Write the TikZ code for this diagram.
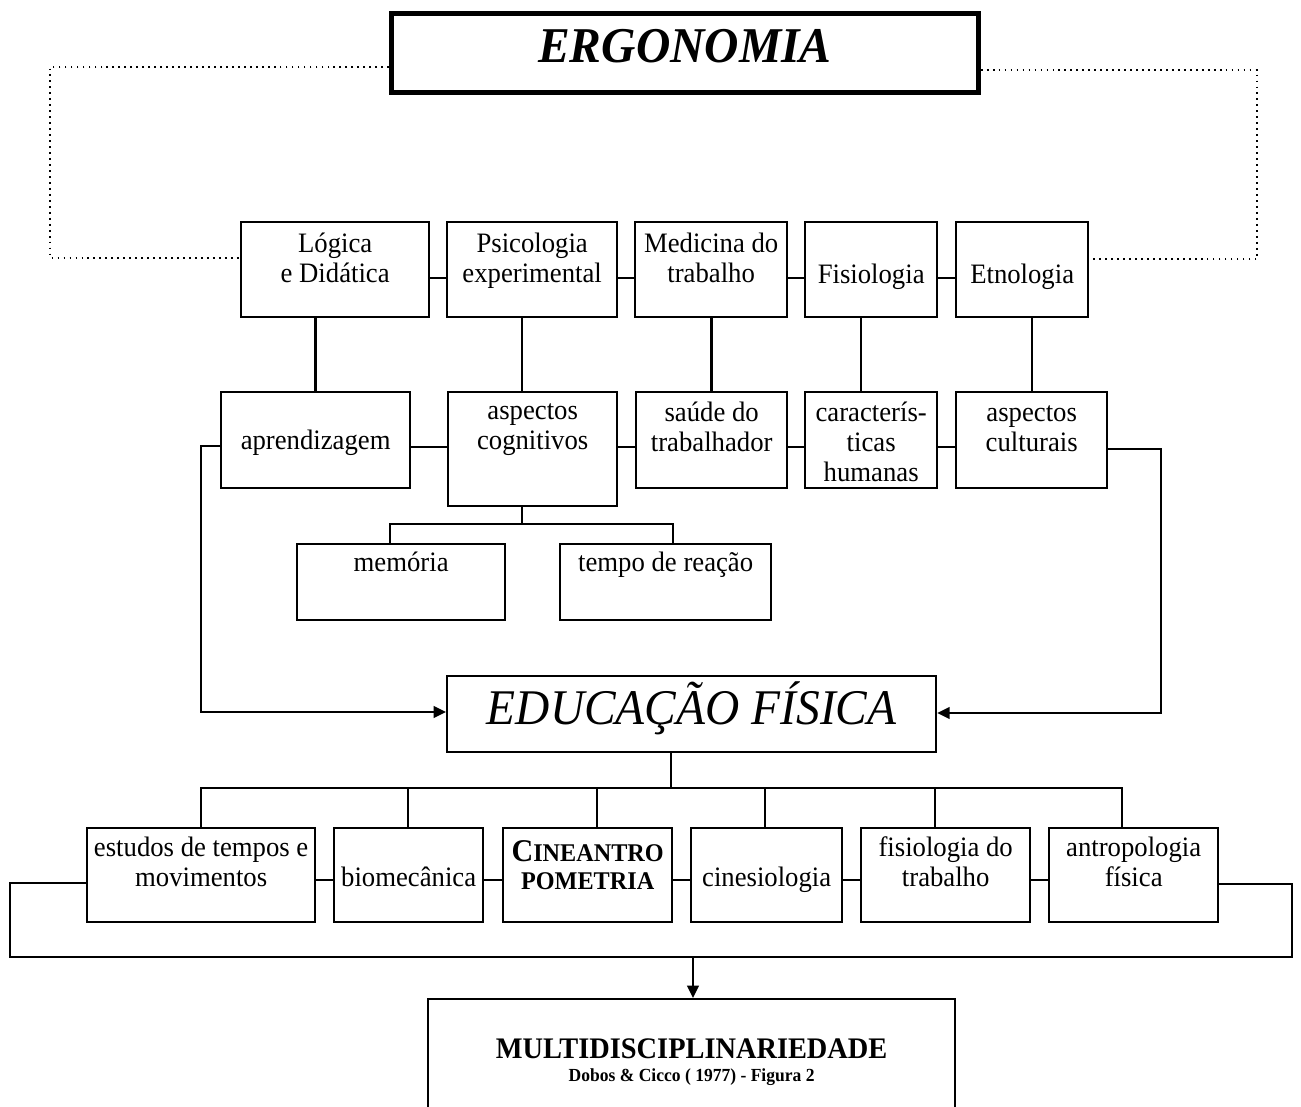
\documentclass[tikz,border=0pt]{standalone}
\usepackage{fontspec}
\setmainfont{Liberation Serif}[FakeStretch=0.95]
\usetikzlibrary{arrows.meta}
\newcommand{\txtfont}{\fontsize{16}{17.1}\selectfont}
\newcommand{\titlefont}{\fontsize{28.5}{30}\selectfont\bfseries\itshape}
\newcommand{\edufont}{\fontsize{28.4}{30}\selectfont\itshape}
\newcommand{\cinfont}{\fontsize{14.5}{15.9}\selectfont\bfseries}
\newcommand{\multifont}{\fontsize{10.5}{13}\selectfont\bfseries}
\tikzset{
  box/.style={draw,line width=1.35pt,align=center,inner sep=0pt,anchor=north west,font=\txtfont},
  hd/.style 2 args={text height=#1cm,text depth=#2cm},
  % connectors
  link/.style={line width=1.35pt},
  dotlink/.style={line width=1pt,dash pattern=on 1pt off 2.4pt},
  feed/.style={link,-{Triangle[length=7pt,width=6.5pt]}},
}
\begin{document}
\begin{tikzpicture}[x=0.02cm,y=-0.02cm]
\fill[white] (0,0) rectangle (1301,1106);
\clip (0,0) rectangle (1301,1106);

%% ---- title ----
\node[box,line width=2.8pt,minimum width=11.74cm,hd={0.98}{0.60},font=\titlefont] (ergo) at (389,11) {ERGONOMIA};

%% ---- row 1: disciplines ----
\node[box,minimum width=3.76cm,hd={1.20}{0.70}] (lg)  at (240,221) {Lógica\\e Didática};
\node[box,minimum width=3.40cm,hd={1.20}{0.70}] (psi) at (446,221) {Psicologia\\experimental};
\node[box,minimum width=3.04cm,hd={1.20}{0.70}] (med) at (634,221) {Medicina do\\trabalho};
\node[box,minimum width=2.64cm,hd={1.22}{0.68}] (fis) at (804,221) {Fisiologia};
\node[box,minimum width=2.64cm,hd={1.22}{0.68}] (etn) at (955,221) {Etnologia};

%% ---- row 2: aspects ----
\node[box,minimum width=3.78cm,hd={1.14}{0.78}] (apr) at (220,391) {aprendizagem};
\node[box,minimum width=3.38cm,hd={1.14}{1.14}] (asp) at (447,391) {aspectos\\cognitivos};
\node[box,minimum width=3.02cm,hd={1.18}{0.74}] (sau) at (635,391) {saúde do\\trabalhador};
\node[box,minimum width=2.64cm,hd={1.78}{0.14}] (car) at (804,391) {caracterís-\\ticas\\humanas};
\node[box,minimum width=3.02cm,hd={1.18}{0.74}] (cul) at (955,391) {aspectos\\culturais};
\node[box,minimum width=4.16cm,hd={0.54}{0.98}] (mem) at (296,543) {memória};
\node[box,minimum width=4.22cm,hd={0.54}{0.98}] (tem) at (559,543) {tempo de reação};

%% ---- centre ----
\node[box,minimum width=9.78cm,hd={0.96}{0.56},font=\edufont] (edu) at (446,675) {EDUCAÇÃO FÍSICA};

%% ---- row 3: fields ----
\node[box,minimum width=4.56cm,hd={1.16}{0.72}] (est) at (86,827) {estudos de tempos e\\movimentos};
\node[box,minimum width=2.98cm,hd={1.16}{0.72}] (bio) at (333,827) {biomecânica};
\node[box,minimum width=3.38cm,hd={1.22}{0.66},font=\cinfont] (cin) at (502,827) {{\fontsize{18}{15.9}\selectfont C}INEANTRO\\POMETRIA};
\node[box,minimum width=3.02cm,hd={1.16}{0.72}] (kin) at (690,827) {cinesiologia};
\node[box,minimum width=3.38cm,hd={1.16}{0.72}] (ftr) at (860,827) {fisiologia do\\trabalho};
\node[box,minimum width=3.38cm,hd={1.16}{0.72}] (ant) at (1048,827) {antropologia\\física};

%% ---- result ----
\node[box,minimum width=10.54cm,hd={1.64}{1.00},font=\multifont] (multi) at (427,998) {{\fontsize{17}{13}\selectfont MULTIDISCIPLINARIEDADE}\\Dobos \& Cicco ( 1977) - Figura 2};

%% ---- dotted frame from the title ----
\draw[dotlink] (ergo.west |- 0,67) -| (50,258) -- (lg.west |- 0,258);
\draw[dotlink] (ergo.east |- 0,70) -| (1257,259) -- (etn.east |- 0,259);

%% ---- row links ----
\draw[link] (lg.east |- 0,278) -- (psi.west |- 0,278);
\draw[link] (psi.east |- 0,278) -- (med.west |- 0,278);
\draw[link] (med.east |- 0,278) -- (fis.west |- 0,278);
\draw[link] (fis.east |- 0,278) -- (etn.west |- 0,278);
\draw[link] (apr.east |- 0,447) -- (asp.west |- 0,447);
\draw[link] (asp.east |- 0,447) -- (sau.west |- 0,447);
\draw[link] (sau.east |- 0,447) -- (car.west |- 0,447);
\draw[link] (car.east |- 0,447) -- (cul.west |- 0,447);

%% ---- row 1 to row 2 ----
\draw[link] (apr.north) -- (apr.north |- lg.south);
\draw[link] (asp.north -| 522,0) -- (psi.south -| 522,0);
\draw[link] (sau.north) -- (sau.north |- med.south);
\draw[link] (car.north -| 861,0) -- (fis.south -| 861,0);
\draw[link] (cul.north) -- (cul.north |- etn.south);

%% ---- cognitive aspects ----
\draw[link] (asp.south -| 522,0) -- (522,524);
\draw[link] (mem.north -| 390,0) |- (673,524) -- (tem.north -| 673,0);

%% ---- feeds into EDUCACAO FISICA ----
\draw[feed] (apr.west |- 0,446) -| (201,712) -- (edu.west |- 0,712);
\draw[feed] (cul.east |- 0,449) -| (1161,713) -- (edu.east |- 0,713);

%% ---- row 3 tree ----
\draw[link] (edu.south -| 671,0) -- (671,788);
\draw[link] (est.north -| 201,0) -- (201,788) -- (1122,788) -- (ant.north -| 1122,0);
\foreach \n/\x in {bio/408,cin/597,kin/765,ftr/935}
  \draw[link] (\n.north -| \x,0) -- (\x,788);
\draw[link] (est.east |- 0,880) -- (bio.west |- 0,880);
\draw[link] (bio.east |- 0,880) -- (cin.west |- 0,880);
\draw[link] (cin.east |- 0,880) -- (kin.west |- 0,880);
\draw[link] (kin.east |- 0,880) -- (ftr.west |- 0,880);
\draw[link] (ftr.east |- 0,880) -- (ant.west |- 0,880);

%% ---- outer loop to MULTIDISCIPLINARIEDADE ----
\coordinate (join) at (693,957);
\draw[link] (est.west |- 0,883) -| (10,957) -- (1292,957) |- (ant.east |- 0,884);
\draw[feed] (join) -- (multi.north -| join);
\end{tikzpicture}
\end{document}
